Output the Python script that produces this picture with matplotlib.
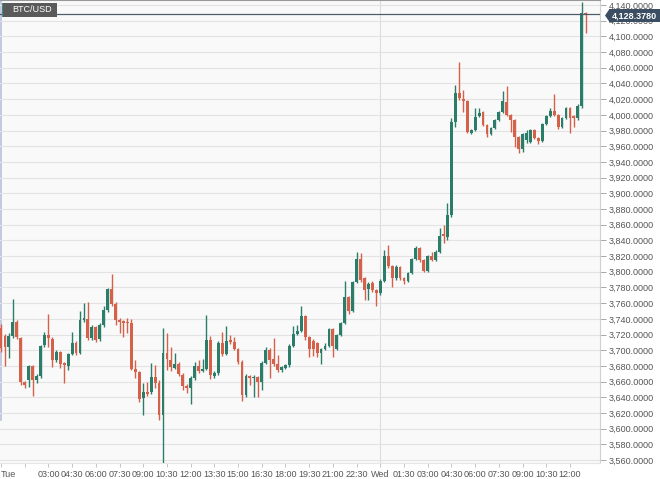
import matplotlib.pyplot as plt
import numpy as np
from matplotlib.patches import Rectangle, Polygon

plt.rcParams['font.family'] = ['Liberation Sans', 'DejaVu Sans']

# BTC/USD 15-minute candles, Tue 00:00 -> Wed 13:00
opens = [3728, 3718, 3704, 3718, 3736, 3715, 3659, 3662, 3680, 3662,
         3667, 3707, 3719, 3714, 3688, 3698, 3684, 3680, 3695, 3709,
         3696, 3738, 3740, 3715, 3730, 3714, 3732, 3751, 3778, 3759,
         3738, 3737, 3736, 3735, 3676, 3672, 3639, 3647, 3647, 3666,
         3658, 3617, 3696, 3688, 3677, 3682, 3668, 3654, 3652, 3665,
         3680, 3673, 3676, 3713, 3667, 3671, 3709, 3695, 3713, 3710,
         3702, 3685, 3643, 3667, 3665, 3666, 3659, 3684, 3700, 3689,
         3682, 3675, 3677, 3681, 3705, 3721, 3724, 3744, 3717, 3712,
         3709, 3696, 3702, 3705, 3727, 3702, 3719, 3735, 3768, 3750,
         3787, 3816, 3792, 3778, 3786, 3777, 3773, 3788, 3820, 3807,
         3792, 3806, 3792, 3788, 3798, 3816, 3830, 3815, 3801, 3820,
         3815, 3825, 3848, 3844, 3872, 3991, 4028, 4020, 4018, 3977,
         3981, 3998, 4004, 3987, 3976, 3983, 3993, 4004, 4016, 4000,
         3993, 3972, 3956, 3968, 3965, 3981, 3971, 3967, 3988, 3998,
         4005, 4000, 3985, 3996, 4009, 3998, 3996, 4011, 4130]
highs = [3733, 3721, 3722, 3765, 3738, 3717, 3661, 3681, 3681, 3670,
         3707, 3723, 3746, 3717, 3700, 3699, 3685, 3696, 3723, 3712,
         3750, 3760, 3761, 3732, 3731, 3735, 3756, 3779, 3797, 3761,
         3741, 3738, 3741, 3740, 3688, 3673, 3658, 3659, 3684, 3681,
         3662, 3728, 3722, 3704, 3696, 3685, 3671, 3657, 3667, 3685,
         3688, 3689, 3745, 3718, 3673, 3712, 3723, 3731, 3719, 3717,
         3703, 3688, 3670, 3668, 3668, 3667, 3686, 3704, 3703, 3715,
         3694, 3680, 3682, 3708, 3731, 3732, 3756, 3745, 3718, 3714,
         3710, 3703, 3709, 3728, 3728, 3721, 3736, 3788, 3769, 3788,
         3825, 3824, 3793, 3787, 3788, 3778, 3791, 3828, 3834, 3809,
         3809, 3807, 3793, 3800, 3818, 3833, 3832, 3816, 3821, 3825,
         3828, 3856, 3860, 3888, 3996, 4038, 4067, 4032, 4019, 3982,
         4009, 4009, 4005, 3988, 3985, 3995, 4005, 4030, 4037, 4001,
         3995, 3973, 3977, 3981, 3982, 3982, 3972, 3990, 4000, 4009,
         4027, 4001, 3997, 4010, 4010, 4000, 4014, 4144, 4131]
lows = [3698, 3680, 3690, 3715, 3714, 3656, 3652, 3653, 3642, 3658,
        3665, 3704, 3704, 3679, 3685, 3677, 3658, 3675, 3694, 3694,
        3695, 3736, 3713, 3713, 3710, 3712, 3730, 3749, 3756, 3732,
        3722, 3717, 3722, 3675, 3665, 3634, 3617, 3642, 3644, 3652,
        3611, 3552, 3675, 3673, 3676, 3667, 3649, 3645, 3631, 3662,
        3671, 3672, 3675, 3663, 3665, 3668, 3693, 3694, 3708, 3700,
        3682, 3635, 3640, 3656, 3640, 3640, 3649, 3682, 3665, 3680,
        3672, 3672, 3676, 3679, 3704, 3719, 3723, 3713, 3691, 3693,
        3691, 3682, 3700, 3704, 3691, 3700, 3718, 3733, 3746, 3749,
        3786, 3787, 3764, 3764, 3774, 3756, 3770, 3787, 3805, 3781,
        3789, 3789, 3784, 3787, 3797, 3815, 3812, 3800, 3800, 3814,
        3814, 3824, 3837, 3840, 3870, 3985, 4019, 4004, 3977, 3976,
        3979, 3997, 3986, 3972, 3974, 3982, 3992, 4002, 3998, 3978,
        3959, 3951, 3953, 3964, 3964, 3969, 3963, 3965, 3987, 3997,
        3998, 3982, 3983, 3995, 3977, 3985, 3993, 4009, 4104]
closes = [3703, 3704, 3718, 3736, 3717, 3659, 3656, 3680, 3662, 3667,
          3705, 3719, 3715, 3688, 3698, 3682, 3681, 3695, 3709, 3696,
          3738, 3741, 3715, 3730, 3713, 3732, 3751, 3778, 3759, 3738,
          3736, 3735, 3735, 3676, 3672, 3638, 3647, 3644, 3666, 3658,
          3617, 3696, 3689, 3679, 3682, 3670, 3654, 3652, 3665, 3680,
          3673, 3676, 3713, 3668, 3671, 3709, 3695, 3712, 3710, 3702,
          3685, 3643, 3667, 3665, 3666, 3659, 3684, 3700, 3688, 3682,
          3675, 3679, 3681, 3705, 3721, 3724, 3744, 3717, 3702, 3702,
          3696, 3702, 3705, 3727, 3705, 3719, 3735, 3768, 3750, 3787,
          3816, 3789, 3777, 3784, 3777, 3773, 3788, 3820, 3807, 3792,
          3806, 3792, 3788, 3798, 3816, 3830, 3815, 3801, 3820, 3815,
          3825, 3846, 3846, 3872, 3991, 4028, 4022, 4018, 3978, 3981,
          3997, 4002, 3987, 3976, 3983, 3993, 4004, 4018, 4000, 3993,
          3972, 3956, 3976, 3977, 3981, 3971, 3967, 3988, 3998, 4005,
          4000, 3985, 3996, 4009, 3996, 3996, 4011, 4130, 4128.378]
last_price = 4128.378

# x tick labels, one every 1.5 h (6 candles)
time_labels = ["Tue", "", "03:00", "04:30", "06:00", "07:30", "09:00", "10:30",
               "12:00", "13:30", "15:00", "16:30", "18:00", "19:30", "21:00",
               "22:30", "Wed", "01:30", "03:00", "04:30", "06:00", "07:30",
               "09:00", "10:30", "12:00"]

green = '#2b7d69'
red = '#d6614b'

W, H = 660, 479
fig = plt.figure(figsize=(W / 100, H / 100), dpi=100)
ax = fig.add_axes([0, 16 / H, 600 / W, 463 / H])
ax.set_facecolor('#f9f9f9')

o = np.array(opens, dtype=float)
c = np.array(closes, dtype=float)
hi = np.array(highs, dtype=float)
lo = np.array(lows, dtype=float)
x = np.arange(len(o))
cols = [green if cc >= oo else red for oo, cc in zip(o, c)]

ax.vlines(x, lo, hi, colors=cols, linewidth=1, zorder=3)
body_bottom = np.minimum(o, c)
body_h = np.maximum(np.abs(c - o), 1.3)
ax.bar(x, body_h, bottom=body_bottom, width=0.72, color=cols, linewidth=0, zorder=4)

ax.set_xlim(-0.25, 151.6)
ax.set_ylim(3556.2, 4146.4)

yt = np.arange(3560, 4141, 20)
ax.set_yticks(yt)
ax.set_yticklabels([f"{v:,.4f}" for v in yt])
ax.yaxis.tick_right()
ax.grid(axis='y', color='#e3e3e3', linewidth=0.8, zorder=0)

ax.set_xticks(np.arange(0, 145, 6))
ax.set_xticklabels(time_labels)
ax.get_xticklabels()[0].set_horizontalalignment('left')

ax.tick_params(axis='y', length=4, width=0.6, color='#9a9a9a', labelsize=6.5,
               labelcolor='#555555', pad=2)
ax.tick_params(axis='x', length=3, width=0.6, color='#bbbbbb', labelsize=6.5,
               labelcolor='#555555', pad=2)

for s in ['left']:
    ax.spines[s].set_visible(False)
ax.spines['bottom'].set_color('#e6e6e6')
ax.spines['right'].set_color('#d0d0d0')
ax.spines['top'].set_color('#999999')
ax.spines['top'].set_linewidth(1.5)

# day separators
ax.axvline(96, color='#dcdcdc', linewidth=0.8, zorder=1)
ax.axvline(-0.05, ymin=43 / 463, ymax=1, color='#b9c0da', linewidth=1.2, zorder=1)

# current price line and tag
ax.axhline(last_price, color='#4f5c6c', linewidth=0.9, zorder=5)
yfig = 1 - 15.5 / H
fig.patches.append(Rectangle((609 / W, yfig - 6.5 / H), 51 / W, 13 / H,
                             transform=fig.transFigure, facecolor='#3c4e64',
                             edgecolor='none'))
fig.patches.append(Polygon([[605 / W, yfig], [609.5 / W, yfig + 6.5 / H],
                            [609.5 / W, yfig - 6.5 / H]], closed=True,
                           transform=fig.transFigure, facecolor='#3c4e64',
                           edgecolor='none'))
fig.text(634.5 / W, yfig, f"{last_price:,.4f}", color='white', fontsize=6.5,
         fontweight='bold', ha='center', va='center')

# symbol label
fig.patches.append(Rectangle((2 / W, 1 - 17 / H), 55 / W, 14 / H,
                             transform=fig.transFigure, facecolor='#5a5a5a',
                             edgecolor='none'))
fig.patches.append(Rectangle((2 / W, 1 - 17 / H), 1.5 / W, 14 / H,
                             transform=fig.transFigure, facecolor='#3b8f7c',
                             edgecolor='none'))
fig.text(12 / W, 1 - 10 / H, "BTC/USD", color='white', fontsize=6.5,
         ha='left', va='center')

fig.savefig('out.png', dpi=100, facecolor='white')
